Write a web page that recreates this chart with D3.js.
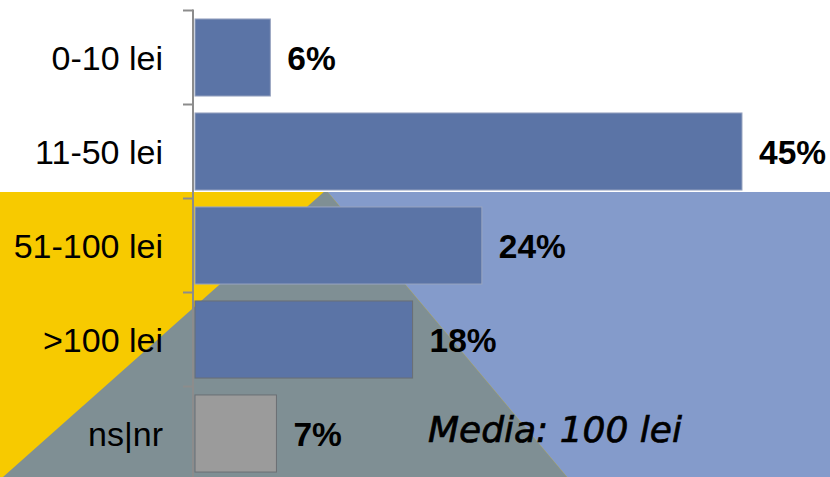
<!DOCTYPE html>
<html>
<head>
<meta charset="utf-8">
<script src="https://cdn.jsdelivr.net/npm/d3@7/dist/d3.min.js"></script>
<style>
  html, body { margin: 0; padding: 0; background: #fff; }
  svg { display: block; }
</style>
</head>
<body>
<div id="chart"></div>
<script>
const categories = ["0-10 lei", "11-50 lei", "51-100 lei", ">100 lei", "ns|nr"];
const values = [6.2, 45, 23.6, 17.9, 6.7];
const barColors = ["#5B74A6", "#5B74A6", "#5B74A6", "#5B74A6", "#9B9B9B"];
const noteText = "Media: 100 lei";

const W = 830, H = 477;
const svg = d3.select("#chart").append("svg").attr("width", W).attr("height", H);

// background decoration
const apex = [326, 190];
const leftFoot = [3, 477];
const rightFoot = [567, 477];
svg.append("rect").attr("x", 0).attr("y", 0).attr("width", W).attr("height", H).attr("fill", "#F7CA00");
svg.append("polygon")
  .attr("points", [apex, [W + 400, apex[1]], [W, H], rightFoot].map(p => p.join(",")).join(" "))
  .attr("fill", "#849BCB");
svg.append("polygon")
  .attr("points", [apex, rightFoot, leftFoot].map(p => p.join(",")).join(" "))
  .attr("fill", "#7F8F94");
svg.append("rect").attr("x", 0).attr("y", 0).attr("width", W).attr("height", 192).attr("fill", "#fff");

const y = d3.scaleBand().domain(categories).range([10.5, 480.5]).paddingInner(0.18).paddingOuter(0.09);
const x = d3.scaleLinear().domain([0, 45]).range([195, 742]);

// bars
svg.selectAll("rect.bar").data(categories).join("rect")
  .attr("class", "bar")
  .attr("x", x(0))
  .attr("y", d => y(d))
  .attr("width", (d, i) => x(values[i]) - x(0))
  .attr("height", y.bandwidth())
  .attr("fill", (d, i) => barColors[i])
  .attr("stroke", (d, i) => i < 3 ? "#9aa6c0" : "#6a6f74")
  .attr("stroke-width", 1);

// axis
const step = y.step();
const axisX = 193;
svg.append("line").attr("x1", axisX).attr("x2", axisX)
  .attr("y1", y(categories[0]) - step * y.paddingInner() / 2 - 1).attr("y2", H)
  .attr("stroke", "#8c8c8c").attr("stroke-width", 2);
svg.selectAll("line.tick").data(categories).join("line")
  .attr("class", "tick")
  .attr("x1", 183).attr("x2", axisX)
  .attr("y1", d => y(d) - step * y.paddingInner() / 2)
  .attr("y2", d => y(d) - step * y.paddingInner() / 2)
  .attr("stroke", "#8c8c8c").attr("stroke-width", 2);

// category labels
svg.selectAll("text.cat").data(categories).join("text")
  .attr("class", "cat")
  .attr("x", 163)
  .attr("y", d => y(d) + y.bandwidth() / 2)
  .attr("dy", "0.36em")
  .attr("text-anchor", "end")
  .attr("font-family", "Liberation Sans, Arial, sans-serif")
  .attr("font-size", 34)
  .attr("fill", "#000")
  .text(d => d);

// value labels
svg.selectAll("text.val").data(categories).join("text")
  .attr("class", "val")
  .attr("x", (d, i) => x(values[i]) + 17)
  .attr("y", d => y(d) + y.bandwidth() / 2)
  .attr("dy", "0.36em")
  .attr("font-family", "Liberation Sans, Arial, sans-serif")
  .attr("font-weight", "bold")
  .attr("font-size", 33.5)
  .attr("fill", "#000")
  .text((d, i) => Math.round(values[i]) + "%");

// note
svg.append("text")
  .attr("x", 428).attr("y", 442)
  .attr("font-family", "DejaVu Sans, sans-serif")
  .attr("font-style", "italic")
  .attr("font-size", 36)
  .attr("fill", "#000")
  .attr("stroke", "#000")
  .attr("stroke-width", 0.7)
  .text(noteText);
</script>
</body>
</html>
